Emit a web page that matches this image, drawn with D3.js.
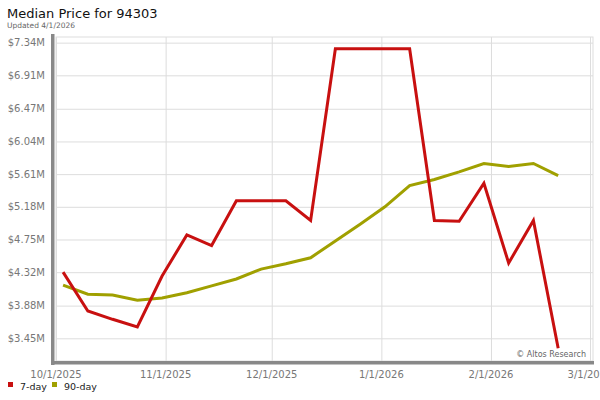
<!DOCTYPE html>
<html>
<head>
<meta charset="utf-8">
<script src="https://cdn.jsdelivr.net/npm/d3@7"></script>
<style>
  body { margin: 0; background: #fff; }
  svg { display: block; font-family: "DejaVu Sans", Verdana, sans-serif; }
  .tick-label { fill: #777; font-size: 10px; }
</style>
</head>
<body>
<div id="card"></div>
<script>
// weekly dates, first point 10/3/2025
const dates = ["2025-10-03","2025-10-10","2025-10-17","2025-10-24","2025-10-31","2025-11-07","2025-11-14",
  "2025-11-21","2025-11-28","2025-12-05","2025-12-12","2025-12-19","2025-12-26","2026-01-02","2026-01-09",
  "2026-01-16","2026-01-23","2026-01-30","2026-02-06","2026-02-13","2026-02-20"];
// values in $M
const sevenDay = [4.32,3.81,3.70,3.60,4.27,4.81,4.67,5.26,5.26,5.26,5.00,7.26,7.26,7.26,7.26,
  5.00,4.99,5.49,4.44,5.00,3.32];
const ninetyDay = [4.15,4.03,4.02,3.95,3.98,4.05,4.14,4.23,4.36,4.43,4.51,4.73,4.95,5.18,5.46,
  5.54,5.64,5.75,5.71,5.75,5.59];
const yTicks = [3.45,3.88,4.32,4.75,5.18,5.61,6.04,6.47,6.91,7.34];
const xTicks = ["2025-10-01","2025-11-01","2025-12-01","2026-01-01","2026-02-01","2026-03-01"];
const seriesNames = ["7-day","90-day"];
const seriesColors = ["#c81010","#a0a000"];

const w = 600, h = 400;
const plot = {left: 56, right: 593, top: 37, bottom: 361};

const parse = d3.timeParse("%Y-%m-%d");
const fmt = d3.timeFormat("%-m/%-d/%Y");

const svg = d3.select("#card").append("svg")
  .attr("width", w).attr("height", h);

// title
svg.append("text").attr("x", 7).attr("y", 18)
  .style("font-size", "13px").style("fill", "#111")
  .text("Median Price for 94303");
svg.append("text").attr("x", 7).attr("y", 27.5)
  .style("font-size", "7.5px").style("fill", "#666")
  .text("Updated 4/1/2026");

const x = d3.scaleTime()
  .domain([parse("2025-10-01"), parse("2026-03-01")])
  .range([56, 590]);
const y = d3.scaleLinear()
  .domain([3.125, 7.48])
  .range([363, 32]);

// plot border
svg.append("rect")
  .attr("x", plot.left).attr("y", plot.top)
  .attr("width", plot.right - plot.left).attr("height", plot.bottom - plot.top)
  .attr("fill", "none").attr("stroke", "#ddd");

// gridlines
svg.append("g")
  .attr("transform", "translate(" + plot.left + ",0)")
  .call(d3.axisLeft(y).tickValues(yTicks).tickSize(-(plot.right - plot.left)).tickFormat(""))
  .call(g => g.select(".domain").remove())
  .call(g => g.selectAll("line").attr("stroke", "#ddd"));

svg.append("g")
  .attr("transform", "translate(0," + plot.top + ")")
  .call(d3.axisBottom(x).tickValues(xTicks.map(parse)).tickSize(plot.bottom - plot.top).tickFormat(""))
  .call(g => g.select(".domain").remove())
  .call(g => g.selectAll("line").attr("stroke", "#ddd"));

// axis bars
svg.append("rect").attr("x", 51).attr("y", 34).attr("width", 3.5).attr("height", 331).attr("fill", "#888");
svg.append("rect").attr("x", 51).attr("y", 361).attr("width", 543).attr("height", 3.5).attr("fill", "#888");

// tick labels
svg.selectAll(".ylab").data(yTicks).enter().append("text")
  .attr("class", "tick-label")
  .attr("x", 45).attr("y", d => y(d)).attr("dy", "0.35em")
  .attr("text-anchor", "end")
  .text(d => "$" + d.toFixed(2) + "M");

svg.selectAll(".xlab").data(xTicks).enter().append("text")
  .attr("class", "tick-label")
  .attr("x", d => x(parse(d))).attr("y", 378)
  .attr("text-anchor", "middle")
  .text(d => fmt(parse(d)));

// lines
const line = d3.line()
  .x((d, i) => x(parse(dates[i])))
  .y(d => y(d));

[sevenDay, ninetyDay].forEach((s, k) => {
  svg.append("path")
    .datum(s)
    .attr("d", line)
    .attr("fill", "none")
    .attr("stroke", seriesColors[k])
    .attr("stroke-width", 3)
    .attr("stroke-linejoin", "miter");
});
// draw red on top
svg.select("path").raise();

// watermark
svg.append("text").attr("x", 586).attr("y", 357)
  .attr("text-anchor", "end")
  .style("font-size", "8px").style("fill", "#666")
  .text("\u00a9 Altos Research");

// legend
const leg = svg.selectAll(".leg").data(seriesNames).enter().append("g")
  .attr("transform", (d, i) => "translate(" + (i === 0 ? 8 : 52) + ",382)");
leg.append("rect").attr("width", 5).attr("height", 5)
  .attr("fill", (d, i) => seriesColors[i]);
leg.append("text").attr("x", 12).attr("y", 7.5)
  .style("font-size", "9.5px").style("fill", "#222")
  .text(d => d);
</script>
</body>
</html>
